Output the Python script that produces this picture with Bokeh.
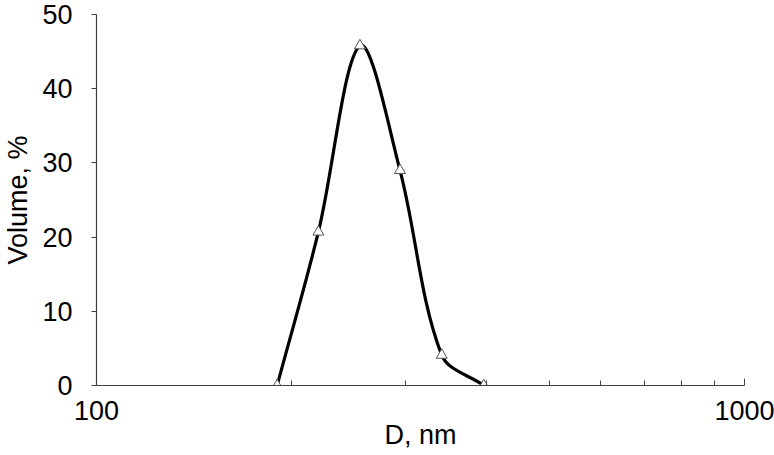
import numpy as np
from bokeh.plotting import figure
from bokeh.models import FixedTicker, Range1d, ColumnDataSource
from bokeh.embed import file_html
from bokeh.resources import INLINE

# Data
diameter_nm = [190, 220, 255, 294, 341, 396]
volume_pct = [0.0, 20.7, 45.8, 29.0, 4.1, 0.0]

x_major_ticks = [100, 1000]
x_minor_ticks = [200, 300, 400, 500, 600, 700, 800, 900]
y_ticks = [0, 10, 20, 30, 40, 50]

FONT = "Liberation Sans"
FS = "27px"
AXIS_COLOR = "#404040"

W, H = 774, 455
BL, BR, BT, BB = 95, 30, 14, 70
FRAME_W = W - BL - BR
FRAME_H = H - BT - BB

p = figure(width=W, height=H, x_axis_type="log",
           x_range=Range1d(100, 1000), y_range=Range1d(0, 50),
           output_backend="svg", toolbar_location=None,
           min_border_left=BL, min_border_right=BR,
           min_border_top=BT, min_border_bottom=BB)
p.outline_line_color = None
p.xgrid.visible = False
p.ygrid.visible = False

# Excel-style smoothed line: Bezier segments whose control points are
# derived from neighbouring data points (in screen proportions).
sx = FRAME_W / 1.0          # px per decade
sy = FRAME_H / 50.0         # px per % unit
X = np.log10(np.array(diameter_nm, dtype=float)) * sx
Y = np.array(volume_pct, dtype=float) * sy
P = np.column_stack([X, Y])
n = len(P)
seg = [np.hypot(*(P[i + 1] - P[i])) for i in range(n - 1)]

def out_ctrl(i):
    if i == 0:
        return P[0] + (P[1] - P[0]) / 3.0
    T = P[i + 1] - P[i - 1]
    return P[i] + T * (1 / 3.0) * seg[i] / (seg[i - 1] + seg[i])

def in_ctrl(i):
    if i == n - 1:
        return P[i] - (P[i] - P[i - 1]) / 3.0
    T = P[i + 1] - P[i - 1]
    return P[i] - T * (1 / 3.0) * seg[i - 1] / (seg[i - 1] + seg[i])

cols = {k: [] for k in ("x0", "y0", "x1", "y1", "cx0", "cy0", "cx1", "cy1")}
for i in range(n - 1):
    c0 = out_ctrl(i)
    c1 = in_ctrl(i + 1)
    cols["x0"].append(diameter_nm[i]); cols["y0"].append(volume_pct[i])
    cols["x1"].append(diameter_nm[i + 1]); cols["y1"].append(volume_pct[i + 1])
    cols["cx0"].append(10 ** (c0[0] / sx)); cols["cy0"].append(c0[1] / sy)
    cols["cx1"].append(10 ** (c1[0] / sx)); cols["cy1"].append(c1[1] / sy)

p.bezier(x0="x0", y0="y0", x1="x1", y1="y1", cx0="cx0", cy0="cy0",
         cx1="cx1", cy1="cy1", source=ColumnDataSource(cols),
         line_color="black", line_width=3.2)

p.scatter(diameter_nm, volume_pct, marker="triangle", size=11,
          fill_color="white", line_color="#555555", line_width=1)

# X axis
xa = p.xaxis[0]
xa.ticker = FixedTicker(ticks=x_major_ticks, minor_ticks=x_minor_ticks)
xa.major_label_overrides = {t: str(t) for t in x_major_ticks}
xa.axis_label = "D, nm"
xa.major_tick_in = 7
xa.major_tick_out = 0
xa.minor_tick_in = 5
xa.minor_tick_out = 0
xa.major_label_standoff = 15
xa.axis_label_standoff = -3

# Y axis
ya = p.yaxis[0]
ya.ticker = FixedTicker(ticks=y_ticks, minor_ticks=[])
ya.axis_label = "Volume, %"
ya.major_tick_in = 0
ya.major_tick_out = 5
ya.minor_tick_in = 0
ya.minor_tick_out = 0
ya.major_label_standoff = 19
ya.axis_label_standoff = 6

for ax in (xa, ya):
    ax.axis_line_color = AXIS_COLOR
    ax.axis_line_width = 1.2
    ax.major_tick_line_color = AXIS_COLOR
    ax.minor_tick_line_color = AXIS_COLOR
    ax.major_label_text_font = FONT
    ax.major_label_text_font_size = FS
    ax.major_label_text_color = "black"
    ax.axis_label_text_font = FONT
    ax.axis_label_text_font_size = FS
    ax.axis_label_text_font_style = "normal"
    ax.axis_label_text_color = "black"

open("out.html", "w").write(file_html(p, INLINE))
